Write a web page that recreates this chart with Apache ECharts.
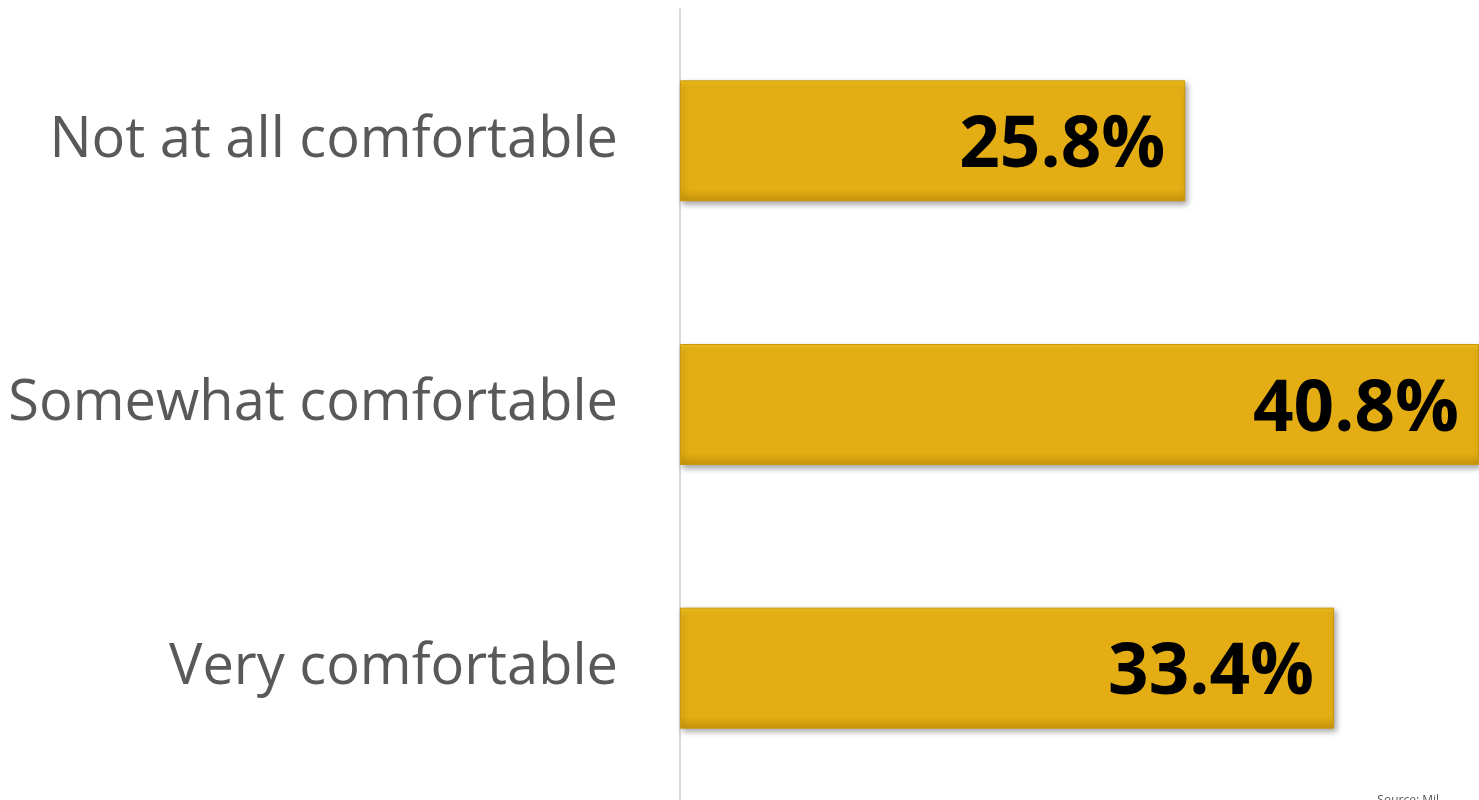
<!DOCTYPE html>
<html>
<head>
<meta charset="utf-8">
<script src="https://cdn.jsdelivr.net/npm/echarts@6/dist/echarts.min.js"></script>
<style>
  html, body { margin: 0; padding: 0; background: #fff; }
  #chart { width: 1479px; height: 800px; }
</style>
</head>
<body>
<div id="chart"></div>
<script>
// categories top to bottom
const categories = ['Not at all comfortable', 'Somewhat comfortable', 'Very comfortable'];
const values = [25.8, 40.8, 33.4];

const chart = echarts.init(document.getElementById('chart'));

const option = {
  animation: false,
  grid: {
    left: 680,
    right: 0,
    top: 9,
    bottom: -2
  },
  xAxis: {
    type: 'value',
    min: 0,
    max: 40.8,
    show: false
  },
  yAxis: {
    type: 'category',
    inverse: true,
    data: categories,
    axisLine: { show: true, lineStyle: { color: '#d9d9d9', width: 2 } },
    axisTick: { show: false },
    axisLabel: {
      color: '#595959',
      fontFamily: 'Open Sans',
      fontSize: 56,
      margin: 62,
      padding: [9, 0, 0, 0]
    }
  },
  series: [{
    type: 'bar',
    data: values,
    barWidth: 121,
    itemStyle: {
      color: new echarts.graphic.LinearGradient(0, 0, 0, 1, [
        { offset: 0, color: '#f2c21c' },
        { offset: 0.08, color: '#e3ad13' },
        { offset: 0.9, color: '#e3ad13' },
        { offset: 1, color: '#c7950c' }
      ]),
      borderColor: '#c9980f',
      borderWidth: 1,
      shadowColor: 'rgba(0,0,0,0.35)',
      shadowBlur: 6,
      shadowOffsetX: 2,
      shadowOffsetY: 3
    },
    label: {
      show: true,
      position: 'insideRight',
      distance: 20,
      offset: [0, 6],
      formatter: p => p.value.toFixed(1) + '%',
      color: '#000',
      fontFamily: 'Open Sans',
      fontWeight: 'bold',
      fontSize: 71
    }
  }],
  graphic: [{
    type: 'text',
    right: 40,
    top: 795,
    style: { text: 'Source: Mil', fill: '#595959', fontSize: 12, fontFamily: 'Open Sans' }
  }]
};

chart.setOption(option);
</script>
</body>
</html>
